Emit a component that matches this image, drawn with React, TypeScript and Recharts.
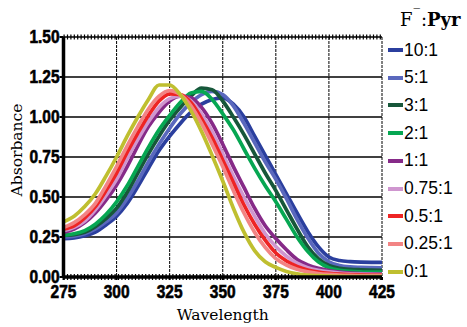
import React from 'react';
import { LineChart, Line, XAxis, YAxis, CartesianGrid, Legend, ReferenceLine } from 'recharts';

const wavelengths = [275,280,285,290,295,300,305,310,315,320,325,330,335,340,345,350,355,360,365,370,375,380,385,390,395,400,405,410,415,420,425];

const r10 = [0.24,0.245,0.258,0.28,0.325,0.38,0.46,0.565,0.68,0.79,0.88,0.96,1.03,1.08,1.11,1.12,1.08,1.0,0.88,0.76,0.64,0.52,0.4,0.285,0.19,0.125,0.103,0.096,0.093,0.092,0.092];
const r5 = [0.25,0.255,0.27,0.3,0.345,0.4,0.49,0.6,0.72,0.83,0.93,1.02,1.09,1.14,1.16,1.14,1.07,0.96,0.84,0.72,0.61,0.49,0.36,0.245,0.15,0.095,0.072,0.063,0.06,0.058,0.057];
const r3 = [0.26,0.265,0.28,0.315,0.365,0.43,0.53,0.65,0.77,0.88,0.98,1.06,1.13,1.18,1.17,1.1,1.0,0.89,0.77,0.65,0.54,0.42,0.3,0.19,0.115,0.072,0.055,0.048,0.045,0.043,0.042];
const r2 = [0.26,0.27,0.29,0.33,0.39,0.47,0.57,0.69,0.81,0.92,1.01,1.09,1.15,1.16,1.11,1.02,0.92,0.8,0.68,0.57,0.47,0.36,0.25,0.16,0.095,0.058,0.042,0.035,0.032,0.03,0.03];
const r1 = [0.28,0.3,0.34,0.4,0.48,0.575,0.69,0.82,0.94,1.03,1.1,1.13,1.12,1.06,0.96,0.83,0.69,0.56,0.43,0.32,0.24,0.17,0.11,0.076,0.054,0.04,0.031,0.025,0.021,0.019,0.018];
const r075 = [0.29,0.31,0.35,0.42,0.51,0.61,0.74,0.86,0.97,1.06,1.115,1.13,1.1,1.02,0.91,0.77,0.63,0.5,0.38,0.27,0.19,0.13,0.086,0.058,0.042,0.032,0.025,0.02,0.018,0.016,0.015];
const r05 = [0.3,0.32,0.37,0.44,0.54,0.65,0.78,0.9,1.01,1.1,1.145,1.14,1.09,0.99,0.87,0.73,0.59,0.45,0.33,0.23,0.15,0.1,0.066,0.044,0.031,0.023,0.018,0.015,0.013,0.012,0.012];
const r025 = [0.31,0.34,0.39,0.46,0.57,0.69,0.82,0.94,1.05,1.13,1.165,1.14,1.07,0.96,0.83,0.69,0.54,0.4,0.28,0.185,0.115,0.075,0.048,0.032,0.022,0.016,0.012,0.01,0.009,0.008,0.008];
const r0 = [0.345,0.38,0.44,0.52,0.63,0.75,0.88,1.0,1.11,1.2,1.2,1.14,1.04,0.91,0.76,0.6,0.43,0.28,0.165,0.095,0.06,0.035,0.02,0.012,0.008,0.005,0.004,0.003,0.003,0.003,0.003];

const xTicks = [275,300,325,350,375,400,425];
const yTicks = [0,0.25,0.5,0.75,1.0,1.25,1.5];

const series = [
  { key: 'r10', name: '10:1', values: r10, color: '#2b3f9e' },
  { key: 'r5', name: '5:1', values: r5, color: '#5a68bd' },
  { key: 'r3', name: '3:1', values: r3, color: '#17573a' },
  { key: 'r2', name: '2:1', values: r2, color: '#06a752' },
  { key: 'r1', name: '1:1', values: r1, color: '#862a88' },
  { key: 'r075', name: '0.75:1', values: r075, color: '#cf96cf' },
  { key: 'r05', name: '0.5:1', values: r05, color: '#ee2424' },
  { key: 'r025', name: '0.25:1', values: r025, color: '#f28484' },
  { key: 'r0', name: '0:1', values: r0, color: '#bfbf30' },
];

const data = wavelengths.map((w, i) => {
  const row: Record<string, number> = { w };
  series.forEach((s) => { row[s.key] = s.values[i]; });
  return row;
});

const tickStyle = {
  fontFamily: '"Liberation Sans", Arial, sans-serif',
  fontWeight: 'bold' as const,
  fontSize: 18,
  fill: '#000',
  stroke: '#000',
  strokeWidth: 0.6,
};

const XTick = (props: any) => {
  const { x, y, payload } = props;
  return (
    <text transform={`translate(${x},${y}) scale(0.86,1)`} textAnchor="middle" dy="0.71em" style={tickStyle}>
      {String(payload.value)}
    </text>
  );
};

const YTick = (props: any) => {
  const { x, y, payload } = props;
  return (
    <text transform={`translate(${x},${y}) scale(0.86,1)`} textAnchor="end" dy="0.34em" style={tickStyle}>
      {Number(payload.value).toFixed(2)}
    </text>
  );
};

const renderLegend = () => (
  <div style={{ position: 'relative', width: 0, height: 0, overflow: 'visible' }}>
    <div style={{ position: 'absolute', top: 7, left: 16, whiteSpace: 'nowrap', fontFamily: '"DejaVu Serif", serif', fontSize: 18, lineHeight: '26px', color: '#000' }}>
      F<span style={{ position: 'relative', top: -8, fontSize: 13, marginLeft: 1, marginRight: 1 }}>‾</span>:<b>Pyr</b>
    </div>
    {series.map((s, i) => (
      <div key={s.key} style={{ position: 'absolute', top: 36 + i * 27.7, left: 4, height: 28, display: 'flex', alignItems: 'center', whiteSpace: 'nowrap' }}>
        <div style={{ width: 15, height: 4, background: s.color, marginRight: 1 }} />
        <span style={{ fontFamily: '"Liberation Sans", Arial, sans-serif', fontSize: 17.5, color: '#000' }}>{s.name}</span>
      </div>
    ))}
  </div>
);

export default function App() {
  return (
    <div style={{ position: 'absolute', left: 0, top: 0, width: 467, height: 327, background: '#fff' }}>
      <LineChart width={467} height={327} data={data} margin={{ top: 37, right: 85, bottom: 0, left: 0 }}>
        <CartesianGrid horizontal={false} vertical={true} stroke="#000" strokeWidth={1} strokeDasharray="3 1" />
        <CartesianGrid horizontal={true} vertical={false} stroke="#000" strokeWidth={1.3} />
        <XAxis
          dataKey="w"
          type="number"
          domain={[275, 425]}
          ticks={xTicks}
          height={50}
          tick={<XTick />}
          tickSize={3}
          tickMargin={5}
          axisLine={{ stroke: '#000', strokeWidth: 3.5 }}
          tickLine={{ stroke: '#000', strokeWidth: 2 }}
          label={{ value: 'Wavelength', position: 'insideBottom', offset: 7, style: { fontFamily: '"DejaVu Serif", serif', fontSize: 15.5, fill: '#000' } }}
        />
        <XAxis xAxisId="top" orientation="top" dataKey="w" type="number" domain={[275, 425]} ticks={xTicks} height={0} tick={() => <g />} tickSize={3} axisLine={{ stroke: '#000', strokeWidth: 3 }} tickLine={{ stroke: '#000', strokeWidth: 2 }} />
        <YAxis
          domain={[0, 1.5]}
          ticks={yTicks}
          width={63.5}
          tick={<YTick />}
          tickSize={4}
          tickMargin={0}
          axisLine={{ stroke: '#000', strokeWidth: 3.5 }}
          tickLine={{ stroke: '#000', strokeWidth: 2 }}
          label={{
            content: () => (
              <text x={22} y={150} transform="rotate(-90 22 150)" textAnchor="middle" style={{ fontFamily: '"DejaVu Serif", serif', fontSize: 15.5, fill: '#000' }}>Absorbance</text>
            ),
          }}
        />
        <YAxis yAxisId="right" orientation="right" domain={[0, 1.5]} ticks={yTicks} width={0} tick={() => <g />} tickSize={3} axisLine={{ stroke: '#000', strokeWidth: 3.5 }} tickLine={{ stroke: '#000', strokeWidth: 3 }} />
        <ReferenceLine y={0} stroke="#000" strokeWidth={6} strokeDasharray="1.2 2.2" />
        <ReferenceLine y={1.5} stroke="#000" strokeWidth={5} strokeDasharray="1.2 2.2" />
        {series.map((s) => (
          <Line key={s.key} dataKey={s.key} name={s.name} type="monotone" stroke={s.color} strokeWidth={3.7} dot={false} isAnimationActive={false} />
        ))}
        <Legend content={renderLegend} layout="vertical" align="right" verticalAlign="top" wrapperStyle={{ position: 'absolute', top: 0, left: 384, width: 0, height: 0 }} />
      </LineChart>
    </div>
  );
}
